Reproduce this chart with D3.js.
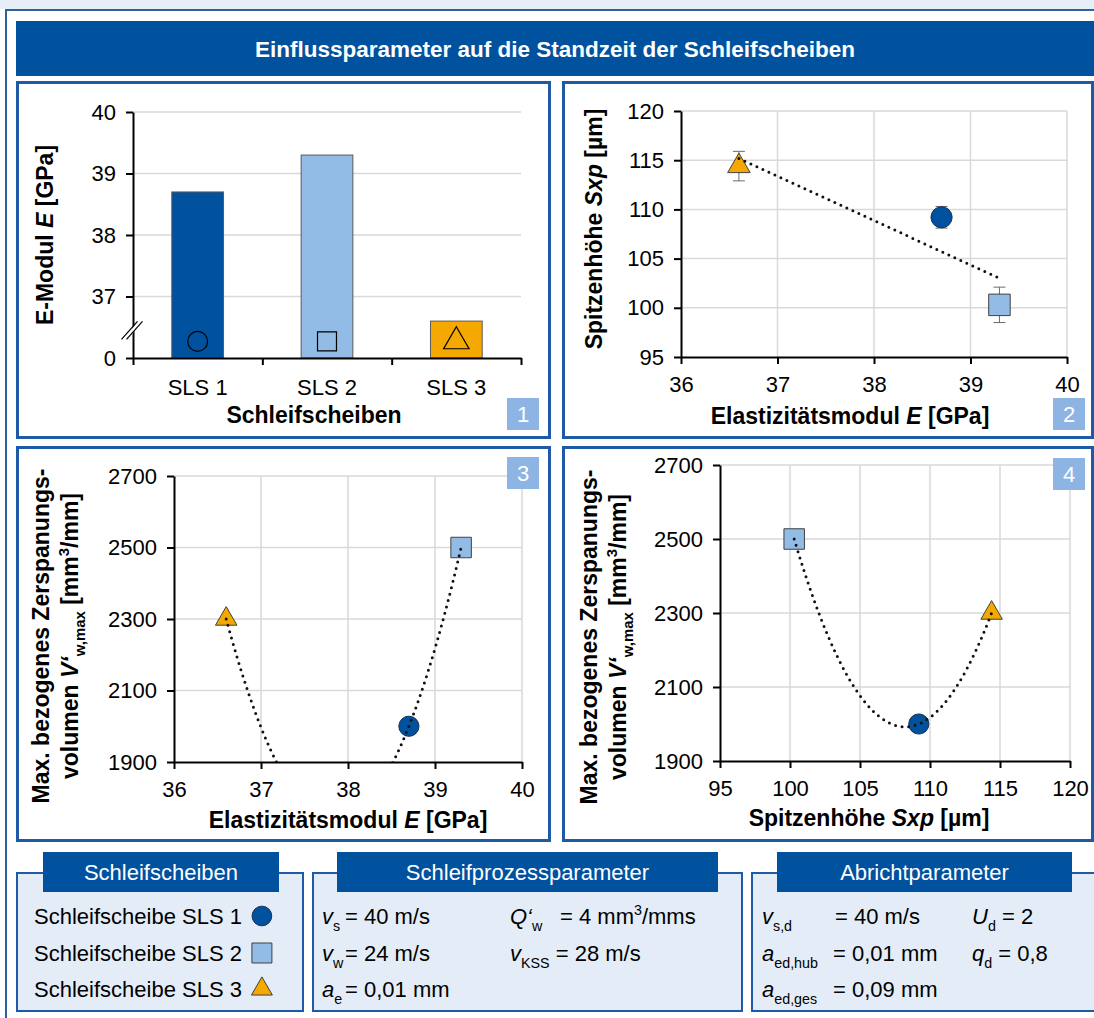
<!DOCTYPE html>
<html>
<head>
<meta charset="utf-8">
<script src="https://cdn.jsdelivr.net/npm/d3@7"></script>
<style>
  body { margin: 0; background: #fff; }
  text { font-family: "Liberation Sans", Arial, sans-serif; }
</style>
</head>
<body>
<svg id="chart"></svg>
<script>
// Daten
var wheels = ["SLS 1", "SLS 2", "SLS 3"];
var eModul = [38.7, 39.3, 36.6];      // GPa
var sxp = [109.2, 100.3, 114.4];      // µm
var sxpErr = [1.1, 1.8, 1.5];
var vwMax = [2000, 2500, 2300];       // mm³/mm
var eTicks = [36, 37, 38, 39, 40];
var sxpTicks = [95, 100, 105, 110, 115, 120];
var vwTicks = [1900, 2100, 2300, 2500, 2700];
var shapes = ["circle", "square", "triangle"];
var fills = ["#00519e", "#92bbe6", "#f5a800"];

var blue = "#00519e";
var frameBlue = "#1e5aa5";
var badgeBlue = "#8db4e2";
var TICK = 22, TITLE = 23, BODY = 22;

var svg = d3.select("#chart").attr("width", 1094).attr("height", 1018);

svg.append("rect").attr("width", 1094).attr("height", 1018).attr("fill", "#fff");
svg.append("rect").attr("width", 1094).attr("height", 9).attr("fill", "#e6eef8");
svg.append("rect").attr("x", 6).attr("y", 10).attr("width", 1120).attr("height", 1100)
    .attr("fill", "#fff").attr("stroke", "#2f5f9c").attr("stroke-width", 2);

// Titelbalken
svg.append("rect").attr("x", 16).attr("y", 21).attr("width", 1100).attr("height", 55).attr("fill", blue);
svg.append("text").attr("x", 555).attr("y", 57).attr("text-anchor", "middle")
    .attr("fill", "#fff").attr("font-size", 22.5).attr("font-weight", "bold")
    .text("Einflussparameter auf die Standzeit der Schleifscheiben");

// Hilfsfunktionen
function rich(t, parts, fs) {
    var shift = 0;
    parts.forEach(function(p) {
        var mode = p[1] || "";
        var target = mode.indexOf("sub") >= 0 ? 0.3 * fs : (mode.indexOf("sup") >= 0 ? -0.4 * fs : 0);
        var ts = t.append("tspan").text(p[0]);
        if (target !== shift) { ts.attr("dy", target - shift); shift = target; }
        if (mode.indexOf("sub") >= 0 || mode.indexOf("sup") >= 0) ts.attr("font-size", fs * 0.65);
        if (mode.indexOf("i") >= 0 && mode.indexOf("sub") < 0) ts.attr("font-style", "italic");
        if (mode.indexOf("b") >= 0 && mode.indexOf("sub") < 0) ts.attr("font-weight", "bold");
    });
    return t;
}

function frame(x, y, w, h) {
    svg.append("rect").attr("x", x + 1.5).attr("y", y + 1.5).attr("width", w - 3).attr("height", h - 3)
        .attr("fill", "#fff").attr("stroke", frameBlue).attr("stroke-width", 3);
}

function badge(x, y, label) {
    svg.append("rect").attr("x", x).attr("y", y).attr("width", 32).attr("height", 32).attr("fill", badgeBlue);
    svg.append("text").attr("x", x + 16).attr("y", y + 24).attr("text-anchor", "middle")
        .attr("fill", "#fff").attr("font-size", 22).text(label);
}

function styleAxis(g) {
    g.attr("font-family", null).attr("font-size", TICK);
    g.select(".domain").attr("stroke", "#000").attr("stroke-width", 2);
    g.selectAll(".tick line").attr("stroke", "#000").attr("stroke-width", 2);
    g.selectAll(".tick text").attr("fill", "#000");
}

function yTitle(x, y, lines, fs) {
    lines.forEach(function(parts, i) {
        var t = svg.append("text").attr("transform", "translate(" + (x + i * 29) + "," + y + ") rotate(-90)")
            .attr("text-anchor", "middle").attr("font-size", fs).attr("font-weight", "bold");
        rich(t, parts, fs);
    });
}

function xTitle(x, y, parts) {
    var t = svg.append("text").attr("x", x).attr("y", y).attr("text-anchor", "middle")
        .attr("font-size", TITLE).attr("font-weight", "bold");
    rich(t, parts, TITLE);
}

var symbolTypes = { circle: d3.symbolCircle, square: d3.symbolSquare, triangle: d3.symbolTriangle };
var symbolSizes = { circle: 320, square: 420, triangle: 200 };

function marker(g, shape, x, y, fill, scale) {
    var s = scale || 1;
    g.append("path")
        .attr("d", d3.symbol(symbolTypes[shape], symbolSizes[shape] * s)())
        .attr("transform", "translate(" + x + "," + y + ")")
        .attr("fill", fill)
        .attr("stroke", shape === "circle" ? "#1a2f55" : "#404040")
        .attr("stroke-width", 1);
}

// ---------- Panel 1: Balken ----------
frame(16, 81, 535, 358);
var x1 = d3.scaleBand().domain(wheels).range([133, 521]).paddingInner(0.6).paddingOuter(0.3);
var y1 = d3.scaleLinear().domain([36, 40]).range([358, 112]);
var g1 = svg.append("g");

g1.selectAll(".grid").data(eTicks.slice(1)).enter().append("line")
    .attr("x1", 133).attr("x2", 521)
    .attr("y1", function(d) { return y1(d); }).attr("y2", function(d) { return y1(d); })
    .attr("stroke", "#d9d9d9").attr("stroke-width", 1.5);

g1.selectAll(".bar").data(eModul).enter().append("rect")
    .attr("x", function(d, i) { return x1(wheels[i]); })
    .attr("y", function(d) { return y1(d); })
    .attr("width", x1.bandwidth())
    .attr("height", function(d) { return y1(36) - y1(d); })
    .attr("fill", function(d, i) { return fills[i]; })
    .attr("stroke", "#595959").attr("stroke-width", 1);

wheels.forEach(function(w, i) {
    g1.append("path")
        .attr("d", d3.symbol(symbolTypes[shapes[i]], shapes[i] === "triangle" ? 280 : (shapes[i] === "square" ? 360 : 310))())
        .attr("transform", "translate(" + (x1(w) + x1.bandwidth() / 2) + "," + y1(36.27) + ")")
        .attr("fill", "none").attr("stroke", "#000").attr("stroke-width", 1.2);
});

var xb = d3.scaleLinear().domain([0, 3]).range([133, 521]);
g1.append("g").attr("transform", "translate(0,358)")
    .call(d3.axisBottom(xb).tickValues([0, 1, 2, 3]).tickFormat("").tickSize(7).tickSizeOuter(0))
    .call(styleAxis);
g1.selectAll(".xlab").data(wheels).enter().append("text")
    .attr("x", function(d) { return x1(d) + x1.bandwidth() / 2; }).attr("y", 395)
    .attr("text-anchor", "middle").attr("font-size", TICK).text(function(d) { return d; });
g1.append("g").attr("transform", "translate(133,0)")
    .call(d3.axisLeft(y1).tickValues(eTicks).tickFormat(function(d) { return d === 36 ? "0" : d; })
        .tickSize(7).tickPadding(10).tickSizeOuter(0))
    .call(styleAxis);

// Achsenbruch
var yb = y1(36.45);
g1.append("polygon").attr("points", [[124, yb + 9], [128, yb + 9], [142, yb - 9], [138, yb - 9]].join(" ")).attr("fill", "#fff");
[-2.5, 2.5].forEach(function(o) {
    g1.append("line").attr("x1", 124 + o).attr("y1", yb + 9).attr("x2", 140 + o).attr("y2", yb - 9)
        .attr("stroke", "#000").attr("stroke-width", 1.2);
});

yTitle(53, 235, [[["E-Modul "], ["E", "bi"], [" [GPa]"]]], TITLE);
xTitle(314, 423, [["Schleifscheiben"]]);
badge(507, 398, "1");

// ---------- Streudiagramme ----------
function scatter(cfg) {
    frame(cfg.box[0], cfg.box[1], cfg.box[2], cfg.box[3]);
    var x = d3.scaleLinear().domain(cfg.xd).range(cfg.xr);
    var y = d3.scaleLinear().domain(cfg.yd).range(cfg.yr);
    var g = svg.append("g");
    var clipId = "clip" + cfg.id;
    g.append("clipPath").attr("id", clipId).append("rect")
        .attr("x", cfg.xr[0]).attr("y", cfg.yr[1]).attr("width", cfg.xr[1] - cfg.xr[0]).attr("height", cfg.yr[0] - cfg.yr[1]);

    g.selectAll(".gx").data(cfg.xt.slice(1)).enter().append("line")
        .attr("x1", function(d) { return x(d); }).attr("x2", function(d) { return x(d); })
        .attr("y1", cfg.yr[0]).attr("y2", cfg.yr[1])
        .attr("stroke", "#d9d9d9").attr("stroke-width", 1.5);
    g.selectAll(".gy").data(cfg.yt.slice(1)).enter().append("line")
        .attr("y1", function(d) { return y(d); }).attr("y2", function(d) { return y(d); })
        .attr("x1", cfg.xr[0]).attr("x2", cfg.xr[1])
        .attr("stroke", "#d9d9d9").attr("stroke-width", 1.5);

    g.append("g").attr("transform", "translate(0," + cfg.yr[0] + ")")
        .call(d3.axisBottom(x).tickValues(cfg.xt).tickFormat(d3.format("d")).tickSize(7).tickPadding(12).tickSizeOuter(0))
        .call(styleAxis);
    g.append("g").attr("transform", "translate(" + cfg.xr[0] + ",0)")
        .call(d3.axisLeft(y).tickValues(cfg.yt).tickFormat(d3.format("d")).tickSize(7).tickPadding(10).tickSizeOuter(0))
        .call(styleAxis);

    // Fehlerbalken
    if (cfg.err) {
        cfg.xs.forEach(function(xv, i) {
            var cx = x(xv), lo = y(cfg.ys[i] - cfg.err[i]), hi = y(cfg.ys[i] + cfg.err[i]);
            g.append("line").attr("x1", cx).attr("x2", cx).attr("y1", lo).attr("y2", hi).attr("stroke", "#6b6b6b");
            [lo, hi].forEach(function(yy) {
                g.append("line").attr("x1", cx - 6).attr("x2", cx + 6).attr("y1", yy).attr("y2", yy).attr("stroke", "#6b6b6b");
            });
        });
    }

    cfg.xs.forEach(function(xv, i) { marker(g, shapes[i], x(xv), y(cfg.ys[i]), fills[i], cfg.ms); });

    // Trendlinie
    var xmin = d3.min(cfg.xs), xmax = d3.max(cfg.xs);
    var pts = d3.range(0, 101).map(function(k) {
        var xv = xmin + (xmax - xmin) * k / 100;
        return [x(xv), y(cfg.fit(xv))];
    });
    g.append("path").attr("d", d3.line()(pts)).attr("clip-path", "url(#" + clipId + ")")
        .attr("fill", "none").attr("stroke", "#111").attr("stroke-width", 3)
        .attr("stroke-linecap", "round").attr("stroke-dasharray", "0,6.6");

    yTitle(cfg.yt0[0], cfg.yt0[1], cfg.ytitle, TITLE);
    xTitle(cfg.xt0[0], cfg.xt0[1], cfg.xtitle);
    badge(cfg.badge[0], cfg.badge[1], cfg.id);
}

function linFit(xs, ys) {
    var mx = d3.mean(xs), my = d3.mean(ys);
    var sxy = d3.sum(xs, function(v, i) { return (v - mx) * (ys[i] - my); });
    var sxx = d3.sum(xs, function(v) { return (v - mx) * (v - mx); });
    var b = sxy / sxx;
    return function(v) { return my + b * (v - mx); };
}
function quadFit(xs, ys) {
    // Polynom 2. Grades durch die drei Punkte (Lagrange)
    return function(v) {
        var s = 0;
        for (var i = 0; i < 3; i++) {
            var l = 1;
            for (var j = 0; j < 3; j++) if (j !== i) l *= (v - xs[j]) / (xs[i] - xs[j]);
            s += ys[i] * l;
        }
        return s;
    };
}

var vTitle = [
    [["Max. bezogenes Zerspanungs-"]],
    [["volumen "], ["V‘", "bi"], ["w,max", "sub"], [" [mm"], ["3", "sup"], ["/mm]"]]
];

scatter({
    id: "2", box: [562, 81, 532, 358],
    xd: [36, 40], xr: [681, 1067], yd: [95, 120], yr: [357, 111],
    xt: eTicks, yt: sxpTicks, xs: eModul, ys: sxp, err: sxpErr,
    fit: linFit(eModul, sxp), ms: 1.1,
    ytitle: [[["Spitzenhöhe "], ["Sxp", "bi"], [" [µm]"]]], yt0: [602, 229],
    xtitle: [["Elastizitätsmodul "], ["E", "i"], [" [GPa]"]], xt0: [850, 424],
    badge: [1053, 398]
});

scatter({
    id: "3", box: [16, 446, 535, 396],
    xd: [36, 40], xr: [174, 522], yd: [1900, 2700], yr: [762, 476],
    xt: eTicks, yt: vwTicks, xs: eModul, ys: vwMax,
    fit: quadFit(eModul, vwMax), ms: 1,
    ytitle: vTitle, yt0: [49, 636],
    xtitle: [["Elastizitätsmodul "], ["E", "i"], [" [GPa]"]], xt0: [348, 828],
    badge: [507, 457]
});

scatter({
    id: "4", box: [562, 446, 532, 396],
    xd: [95, 120], xr: [720, 1070], yd: [1900, 2700], yr: [761, 465],
    xt: sxpTicks, yt: vwTicks, xs: sxp, ys: vwMax,
    fit: quadFit(sxp, vwMax), ms: 1,
    ytitle: vTitle, yt0: [597, 637],
    xtitle: [["Spitzenhöhe "], ["Sxp", "i"], [" [µm]"]], xt0: [869, 826],
    badge: [1053, 458]
});

// ---------- Parameterkästen ----------
function infoBox(x, w, hx, hw, title) {
    svg.append("rect").attr("x", x + 1).attr("y", 873).attr("width", w - 2).attr("height", 138)
        .attr("fill", "#e4edf7").attr("stroke", frameBlue).attr("stroke-width", 2);
    svg.append("rect").attr("x", hx).attr("y", 852).attr("width", hw).attr("height", 40).attr("fill", blue);
    svg.append("text").attr("x", hx + hw / 2).attr("y", 880).attr("text-anchor", "middle")
        .attr("fill", "#fff").attr("font-size", 22).text(title);
}
var rowY = [924, 961, 997];
function put(x, row, parts) {
    var t = svg.append("text").attr("x", x).attr("y", rowY[row]).attr("font-size", BODY).attr("fill", "#000");
    return rich(t, parts, BODY);
}

infoBox(16, 288, 43, 236, "Schleifscheiben");
wheels.forEach(function(w, i) {
    var t = put(34, i, [["Schleifscheibe " + w]]);
    var end = 34 + t.node().getComputedTextLength();
    marker(svg, shapes[i], end + 20, rowY[i] - 8, fills[i], 0.95);
});

infoBox(312, 431, 337, 381, "Schleifprozessparameter");
put(322, 0, [["v", "i"], ["s", "sub"]]);  put(345, 0, [["= 40 m/s"]]);
put(322, 1, [["v", "i"], ["w", "sub"]]);  put(345, 1, [["= 24 m/s"]]);
put(322, 2, [["a", "i"], ["e", "sub"]]);  put(345, 2, [["= 0,01 mm"]]);
put(510, 0, [["Q‘", "i"], ["w", "sub"]]); put(560, 0, [["= 4 mm"], ["3", "sup"], ["/mms"]]);
put(510, 1, [["v", "i"], ["KSS", "sub"], [" = 28 m/s"]]);

infoBox(751, 345, 777, 295, "Abrichtparameter");
put(762, 0, [["v", "i"], ["s,d", "sub"]]);      put(835, 0, [["= 40 m/s"]]);
put(762, 1, [["a", "i"], ["ed,hub", "sub"]]);   put(833, 1, [["= 0,01 mm"]]);
put(762, 2, [["a", "i"], ["ed,ges", "sub"]]);   put(833, 2, [["= 0,09 mm"]]);
put(972, 0, [["U", "i"], ["d", "sub"], [" = 2"]]);
put(972, 1, [["q", "i"], ["d", "sub"], [" = 0,8"]]);
</script>
</body>
</html>
